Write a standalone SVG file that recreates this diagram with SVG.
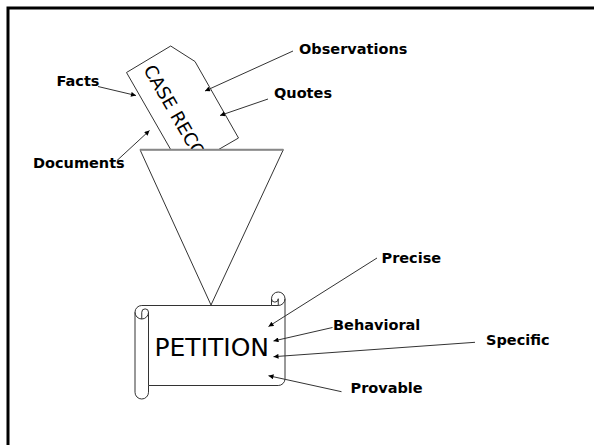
<svg xmlns="http://www.w3.org/2000/svg" width="594" height="445" viewBox="0 0 594 445">
<style>
.lbl{font-family:"DejaVu Sans","Liberation Sans",sans-serif;font-weight:bold;font-size:14.5px;fill:#000}
.shape{fill:#fff;stroke:#333;stroke-width:1}
.conn{stroke:#333;stroke-width:1;fill:none}
</style>
<defs>
<marker id="ah" viewBox="0 0 10 10" refX="10" refY="5" markerWidth="6" markerHeight="5" markerUnits="userSpaceOnUse" orient="auto">
<path d="M0,0 L10,5 L0,10 z" fill="#000"/>
</marker>
</defs>
<rect width="594" height="445" fill="#fff"/>
<rect x="8" y="8" width="700" height="600" fill="none" stroke="#000" stroke-width="3"/>

<g id="case-record">
<polygon class="shape" points="126.5,72.5 170.7,46 195,61.5 238.5,138 182.6,170.3"/>
<text x="143" y="69.5" transform="rotate(60 143 69.5)" font-family="DejaVu Sans, Liberation Sans, sans-serif" font-size="18">CASE RECO</text>
</g>

<g id="funnel">
<polygon points="140,149.7 283.3,149.7 211,305" fill="#fff" stroke="#333" stroke-width="1"/>
<line x1="140" y1="149.7" x2="283.3" y2="149.7" stroke="#888" stroke-width="2"/>
</g>

<g id="petition">
<path class="shape" d="M135,312.25 A6.75,6.75 0 0 1 141.75,305.5 L271.5,305.5 L271.5,298.75 A6.75,6.75 0 0 1 285,298.75 L285,378.75 A6.75,6.75 0 0 1 278.25,385.5 L148.5,385.5 L148.5,392.25 A6.75,6.75 0 0 1 135,392.25 Z"/>
<path class="conn" d="M271.5,305.5 L278.25,305.5 A6.75,6.75 0 0 0 285,298.75 M278.25,305.5 L278.25,298.75 A3.375,3.375 0 0 1 271.5,298.75 M141.75,319 L141.75,312.25 A3.375,3.375 0 0 1 148.5,312.25 A6.75,6.75 0 0 1 135,312.25 M148.5,312.25 L148.5,385.5"/>
<text x="154.5" y="355.5" font-family="DejaVu Sans, Liberation Sans, sans-serif" font-size="25">PETITION</text>
</g>

<g id="connectors">
<line class="conn" x1="293" y1="51" x2="205" y2="91" marker-end="url(#ah)"/>
<line class="conn" x1="268" y1="99" x2="220" y2="115.5" marker-end="url(#ah)"/>
<line class="conn" x1="98" y1="86.5" x2="136" y2="95.5" marker-end="url(#ah)"/>
<line class="conn" x1="117" y1="160.5" x2="149.5" y2="130.5" marker-end="url(#ah)"/>
<line class="conn" x1="377" y1="258" x2="268.5" y2="326.5" marker-end="url(#ah)"/>
<line class="conn" x1="332.5" y1="327.5" x2="273.5" y2="341" marker-end="url(#ah)"/>
<line class="conn" x1="475" y1="342.3" x2="273.5" y2="356.7" marker-end="url(#ah)"/>
<line class="conn" x1="341.5" y1="391.7" x2="268.5" y2="375.7" marker-end="url(#ah)"/>
</g>

<g id="labels">
<text class="lbl" x="299" y="54">Observations</text>
<text class="lbl" x="274" y="98">Quotes</text>
<text class="lbl" x="56.5" y="86">Facts</text>
<text class="lbl" x="33" y="168">Documents</text>
<text class="lbl" x="381.5" y="262.5">Precise</text>
<text class="lbl" x="333" y="330">Behavioral</text>
<text class="lbl" x="486" y="345">Specific</text>
<text class="lbl" x="350.5" y="392.5">Provable</text>
</g>
</svg>
